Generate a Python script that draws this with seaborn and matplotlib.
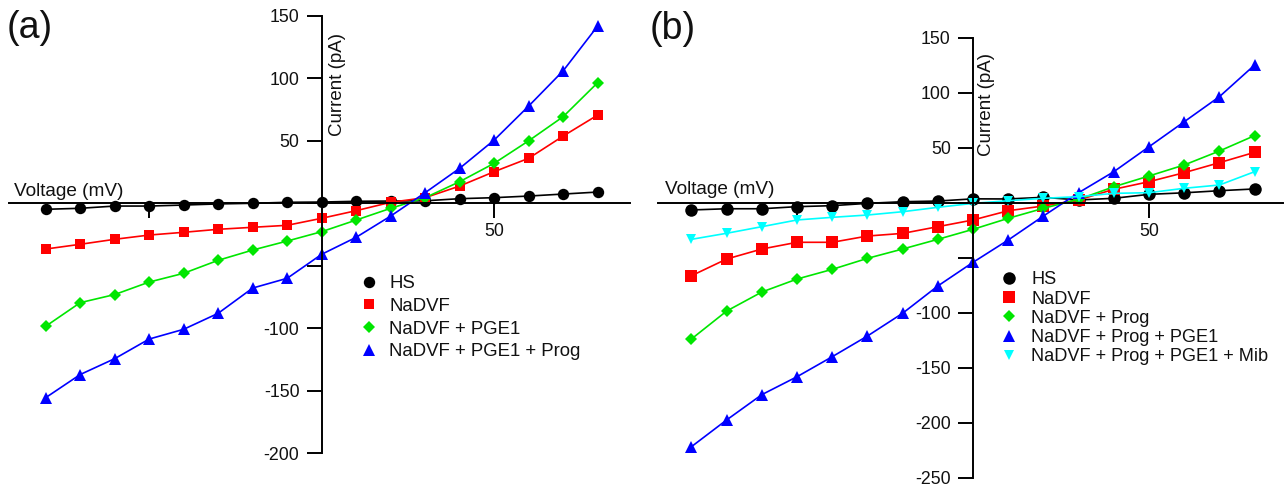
import numpy as np
import pandas as pd
import seaborn as sns
import matplotlib
matplotlib.use("Agg")
import matplotlib.pyplot as plt
from matplotlib.lines import Line2D

# ---------------- data ----------------
voltage = [-80, -70, -60, -50, -40, -30, -20, -10, 0, 10, 20, 30, 40, 50, 60, 70, 80]

# panel (a)
a_labels = ["HS", "NaDVF", "NaDVF + PGE1", "NaDVF + PGE1 + Prog"]
a_hs = [-4.8, -4.0, -2.2, -2.2, -1.4, -0.5, 0.0, 0.8, 1.0, 1.6, 1.8, 2.0, 3.7, 4.5, 5.8, 7.4, 9.0]
a_nadvf = [-36.6, -32.8, -28.8, -25.4, -23.2, -20.8, -19.2, -17.6, -12.0, -5.9, 0.8, 4.5, 13.8, 25.3, 36.0, 53.8, 70.6]
a_pge1 = [-98.4, -79.5, -73.0, -63.0, -56.0, -45.6, -37.4, -30.2, -22.7, -13.4, -4.0, 4.5, 17.3, 32.0, 50.0, 69.3, 96.5]
a_pge1_prog = [-155.5, -137.0, -124.3, -108.6, -100.8, -88.0, -67.8, -60.0, -40.8, -27.2, -10.2, 8.5, 28.0, 50.6, 77.8, 106.0, 141.8]

# panel (b)
b_labels = ["HS", "NaDVF", "NaDVF + Prog", "NaDVF + Prog + PGE1", "NaDVF + Prog + PGE1 + Mib"]
b_hs = [-6.6, -5.5, -5.5, -3.6, -2.7, -0.6, 0.9, 1.5, 3.5, 3.4, 4.9, 2.5, 4.0, 7.6, 9.0, 10.9, 12.5]
b_nadvf = [-66.4, -51.2, -42.1, -36.0, -36.0, -30.3, -27.9, -21.8, -15.7, -7.3, -3.0, 2.5, 12.2, 19.1, 27.3, 36.4, 45.8]
b_prog = [-123.9, -98.5, -81.2, -69.4, -60.6, -50.6, -42.1, -33.3, -24.2, -14.2, -5.1, 3.1, 14.5, 24.3, 34.3, 47.0, 61.0]
b_prog_pge1 = [-221.8, -197.5, -174.5, -158.2, -140.0, -121.2, -100.5, -75.7, -54.2, -33.9, -12.1, 9.1, 28.2, 50.9, 73.6, 96.4, 125.2]
b_mib = [-33.3, -27.8, -21.8, -15.7, -13.3, -11.2, -8.2, -4.2, -0.6, 1.8, 4.0, 5.5, 8.5, 9.1, 13.1, 16.1, 28.2]

a_yticks = [-200, -150, -100, -50, 0, 50, 100, 150]
a_yticklabels = ["-200", "-150", "-100", "", "", "50", "100", "150"]
b_yticks = [-250, -200, -150, -100, -50, 0, 50, 100, 150]
b_yticklabels = ["-250", "-200", "-150", "-100", "", "", "50", "100", "150"]
xticks = [-50, 50]
xticklabels = ["", "50"]

# ---------------- style ----------------
sns.set_theme(style="white")
plt.rcParams["font.family"] = ["Liberation Sans", "DejaVu Sans"]

W, H = 1284, 487
fig = plt.figure(figsize=(W / 100, H / 100), dpi=100)


def fpx(x, y):
    return x / W, 1 - y / H


def make_axes(left, right, top, bottom):
    return fig.add_axes([left / W, 1 - bottom / H, (right - left) / W, (bottom - top) / H])


def style_axes(ax, xlim, ylim, yticks, yticklabels, ybounds):
    ax.set_xlim(*xlim)
    ax.set_ylim(*ylim)
    for s in ["top", "right"]:
        ax.spines[s].set_visible(False)
    ax.spines["left"].set_position(("data", 0))
    ax.spines["bottom"].set_position(("data", 0))
    ax.spines["left"].set_bounds(*ybounds)
    for s in ["left", "bottom"]:
        ax.spines[s].set_color("black")
        ax.spines[s].set_linewidth(1.4)
    ax.set_yticks(yticks)
    ax.set_yticklabels(yticklabels)
    ax.set_xticks(xticks)
    ax.set_xticklabels(xticklabels)
    ax.tick_params(axis="both", direction="out", length=10.5, width=1.4, color="black",
                   labelsize=12.8, labelcolor="#111111", pad=4.0, left=True, bottom=True)
    ax.tick_params(axis="y", pad=5.5)
    ax.set_xlabel("")
    ax.set_ylabel("")
    ax.patch.set_alpha(0)
    ax.grid(False)


def draw_series(ax, labels, series, colors, markers, sizes):
    rows = []
    for lab, vals in zip(labels, series):
        for v, c in zip(voltage, vals):
            rows.append({"Voltage": v, "Current": c, "Condition": lab})
    df = pd.DataFrame(rows)
    for lab in labels:
        sub = df[df["Condition"] == lab]
        sns.lineplot(data=sub, x="Voltage", y="Current", color=colors[lab], marker=markers[lab],
                     markersize=sizes[lab], markeredgewidth=0, linewidth=1.2, sort=False,
                     legend=False, ax=ax)


# ---------------- panel (a) ----------------
ax1 = make_axes(9.1, 630.1, 3.3, 468.3)
a_colors = {"HS": "black", "NaDVF": "#ff0000", "NaDVF + PGE1": "#00e600", "NaDVF + PGE1 + Prog": "#0000ff"}
a_markers = {"HS": "o", "NaDVF": "s", "NaDVF + PGE1": "D", "NaDVF + PGE1 + Prog": "^"}
a_sizes = {"HS": 8.2, "NaDVF": 7.2, "NaDVF + PGE1": 6.0, "NaDVF + PGE1 + Prog": 8.6}
draw_series(ax1, a_labels, [a_hs, a_nadvf, a_pge1, a_pge1_prog], a_colors, a_markers, a_sizes)
style_axes(ax1, (-90.6, 89.4), (-212, 160), a_yticks, a_yticklabels, (-200, 150))

# ---------------- panel (b) ----------------
ax2 = make_axes(658, 1282.8, 21.2, 483.2)
b_colors = {"HS": "black", "NaDVF": "#ff0000", "NaDVF + Prog": "#00e600",
            "NaDVF + Prog + PGE1": "#0000ff", "NaDVF + Prog + PGE1 + Mib": "#00ffff"}
b_markers = {"HS": "o", "NaDVF": "s", "NaDVF + Prog": "D",
             "NaDVF + Prog + PGE1": "^", "NaDVF + Prog + PGE1 + Mib": "v"}
b_sizes = {"HS": 9.0, "NaDVF": 8.6, "NaDVF + Prog": 6.6,
           "NaDVF + Prog + PGE1": 8.8, "NaDVF + Prog + PGE1 + Mib": 7.8}
draw_series(ax2, b_labels, [b_hs, b_nadvf, b_prog, b_prog_pge1, b_mib], b_colors, b_markers, b_sizes)
style_axes(ax2, (-89.5, 88.0), (-255, 165), b_yticks, b_yticklabels, (-250, 150))

# ---------------- text ----------------
fig.text(*fpx(7, 28), "(a)", fontsize=27, ha="left", va="center", color="#111111")
fig.text(*fpx(650, 29), "(b)", fontsize=27, ha="left", va="center", color="#111111")
fig.text(*fpx(14, 191), "Voltage (mV)", fontsize=13.7, ha="left", va="center", color="#111111")
fig.text(*fpx(665, 190), "Voltage (mV)", fontsize=13.7, ha="left", va="center", color="#111111")
fig.text(*fpx(337.5, 85), "Current (pA)", fontsize=13.5, rotation=90, ha="center", va="center", color="#111111")
fig.text(*fpx(986.5, 105), "Current (pA)", fontsize=13.5, rotation=90, ha="center", va="center", color="#111111")

# ---------------- legends ----------------
def legend_handles(labels, colors, markers, sizes):
    return [Line2D([], [], linestyle="none", marker=markers[l], color=colors[l],
                   markersize=sizes[l], markeredgewidth=0) for l in labels]


fs_a = 13.4
leg1 = fig.legend(legend_handles(a_labels, a_colors, a_markers, a_sizes), a_labels,
                  loc="upper left", bbox_to_anchor=fpx(361.2, 275), frameon=False,
                  fontsize=fs_a, handlelength=0.8, handletextpad=0.71, labelspacing=0.31,
                  borderpad=0, borderaxespad=0)
fs_b = 13.1
leg2 = fig.legend(legend_handles(b_labels, b_colors, b_markers, b_sizes), b_labels,
                  loc="upper left", bbox_to_anchor=fpx(1001, 271.5), frameon=False,
                  fontsize=fs_b, handlelength=0.85, handletextpad=0.82, labelspacing=0.12,
                  borderpad=0, borderaxespad=0)
for leg in (leg1, leg2):
    for t in leg.get_texts():
        t.set_color("#111111")

fig.savefig("out.png", dpi=100)
